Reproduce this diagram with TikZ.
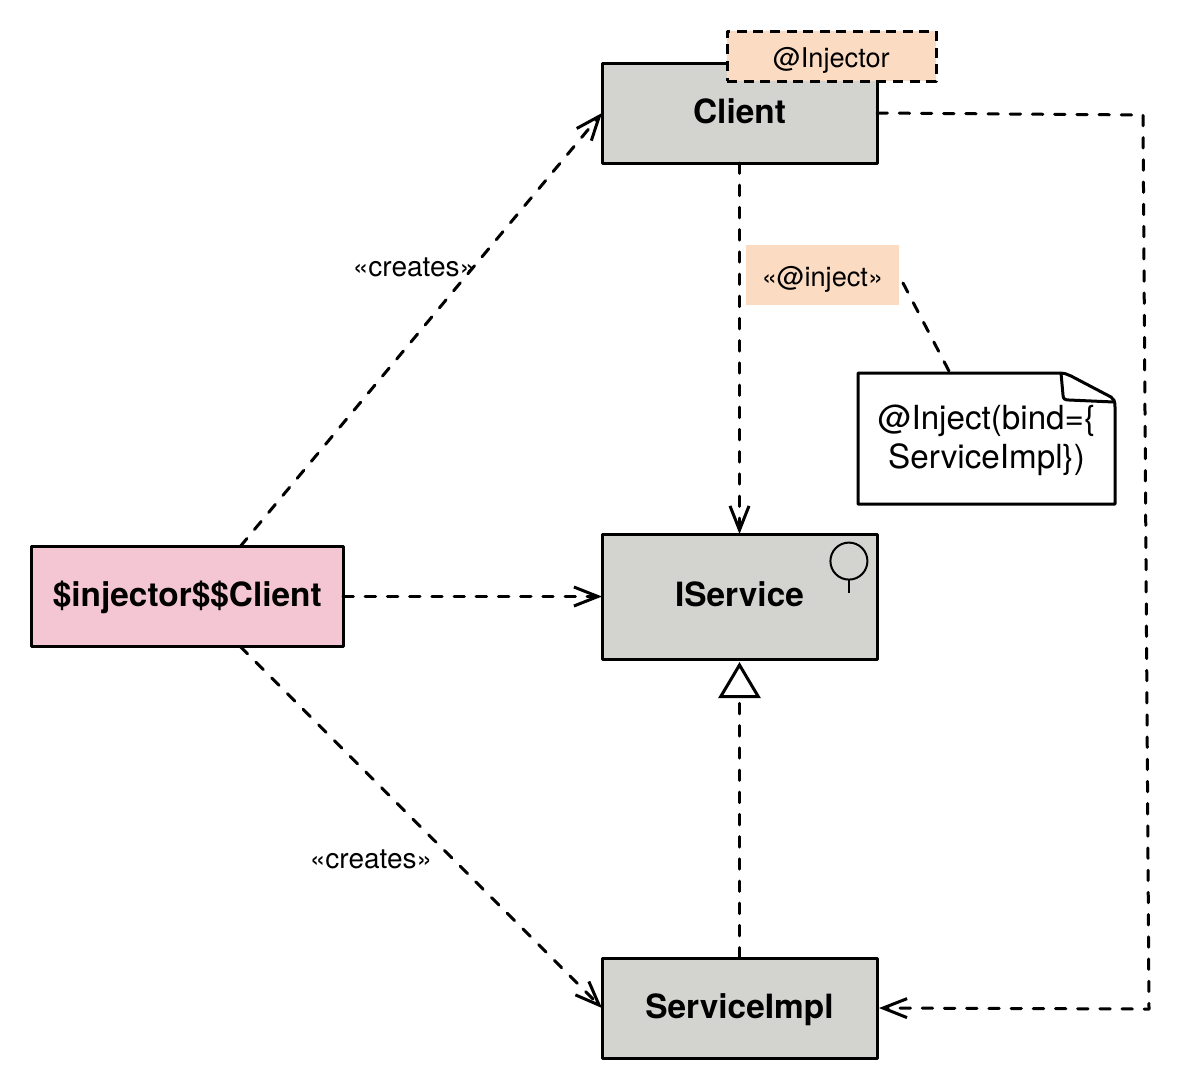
\documentclass[tikz,border=0pt]{standalone}
\usepackage{fontspec}
\setmainfont{TeX Gyre Heros}
\usepackage{xcolor}
\usetikzlibrary{positioning, arrows.meta, calc}

\definecolor{boxgrey}{HTML}{D3D4D0}
\definecolor{boxpink}{HTML}{F4C6D3}
\definecolor{boxpeach}{HTML}{FBDCC3}

\tikzset{
  line/.style={line width=1.5pt, line join=round},
  dep/.style={line, line cap=round, dash pattern=on 5.2pt off 5.9pt},
  open/.style={dep, -{Straight Barb[length=12pt, width=9.5pt, line width=1.5pt]}},
  classbox/.style={draw, line, fill=boxgrey, font=\fontsize{16.7}{20}\selectfont\bfseries, text height=10pt, text depth=0pt, minimum width=137.5pt, outer sep=0pt},
  tag/.style={font=\fontsize{13.6}{16}\selectfont, text height=11pt, text depth=0pt, inner sep=0pt, outer sep=0pt},
  stereo/.style={tag, font=\fontsize{14}{16}\selectfont},
}

\begin{document}
\begin{tikzpicture}
\path[use as bounding box] (0,0) rectangle (589pt,-544.5pt);
\node[classbox, minimum height=50pt] (client) at (369.75pt,-56.5pt) {Client};
\node[classbox, minimum height=62.5pt, below = 185.5pt of client] (iservice) {IService};
\node[classbox, minimum height=50pt, below = 149.5pt of iservice] (serviceimpl) {ServiceImpl};
\node[classbox, fill=boxpink, minimum width=155.75pt, minimum height=50pt, left = 129.5pt of iservice] (injector) {\$injector\$\$Client};

% stereotype tags
\node[tag, line, dash pattern=on 5pt off 3.3pt, draw, fill=boxpeach, minimum width=104.5pt, minimum height=25pt] (tagclient) at (415.75pt,-28pt) {@Injector};
\node[tag, fill=boxpeach, minimum width=76.5pt, minimum height=30pt] (taginject) at (411.25pt,-137.5pt) {«@inject»};

% note
\node[minimum width=128.5pt, minimum height=65.5pt, inner sep=0pt, outer sep=0pt] (note) at (493.25pt,-219.25pt) {};
\node[align=center, font=\fontsize{16.6}{19.5}\selectfont, inner sep=0pt] (notetext) at ($(note.center)+(0,-1pt)$) {@Inject(bind=\{\\ServiceImpl\})};
\draw[line] (note.north west) -- ($(note.north east)+(-29pt,0)$)
  .. controls ($(note.north east)+(-25pt,0)$) and ($(note.north east)+(-24pt,-0.5pt)$) .. ($(note.north east)+(-22pt,-1.5pt)$)
  -- ($(note.north east)+(-2pt,-12pt)$)
  .. controls ($(note.north east)+(-0.5pt,-13pt)$) and ($(note.north east)+(0,-14pt)$) .. ($(note.north east)+(0,-17pt)$)
  -- (note.south east) -- (note.south west) -- cycle;
\draw[line] ($(note.north east)+(-27pt,0)$) -- ($(note.north east)+(-26pt,-11pt)$)
  .. controls ($(note.north east)+(-26pt,-13pt)$) and ($(note.north east)+(-25pt,-13.5pt)$) .. ($(note.north east)+(-23pt,-13.5pt)$)
  -- ($(note.north east)+(-0.5pt,-14.5pt)$);

% interface mark
\node[circle, draw, line width=1pt, fill=none, minimum size=18.5pt, inner sep=0pt, outer sep=0pt, below left = 7pt and 7.5pt of iservice.north east] (lollipop) {};
\coordinate[below = 6.5pt of lollipop.south] (stem);
\draw[line width=1pt] (lollipop.south) -- (stem);

% free ends
\coordinate[right = 26.5pt of injector.north] (injtop);
\coordinate[right = 26.5pt of injector.south] (injbottom);
\coordinate (cornertop) at (571.5pt,-57.5pt);
\coordinate (cornerbottom) at (574.5pt,-504.5pt);
\coordinate (injectend) at (451.5pt,-141.5pt);
\coordinate (noteend) at (475pt,-186.5pt);

\draw[open] (injtop) -- (client.west);
\draw[open] (client.south) -- (iservice.north);
\draw[open] (injector.east) -- (iservice.west);
\draw[open] (injbottom) -- (serviceimpl.west);
\draw[open] (client.east) -- (cornertop) -- (cornerbottom) -- ($(serviceimpl.east)+(1pt,0)$);
\draw[dep] (injectend) -- (noteend);
\draw[dep, shorten >=1.5pt, -{Triangle[open, fill=white, length=18pt, width=21pt, line width=1.5pt]}] (serviceimpl.north) -- (iservice.south);

\node[stereo] (createsup) at (207pt,-132.5pt) {«creates»};
\node[stereo] (createsdown) at (185.5pt,-428.5pt) {«creates»};
\end{tikzpicture}
\end{document}
